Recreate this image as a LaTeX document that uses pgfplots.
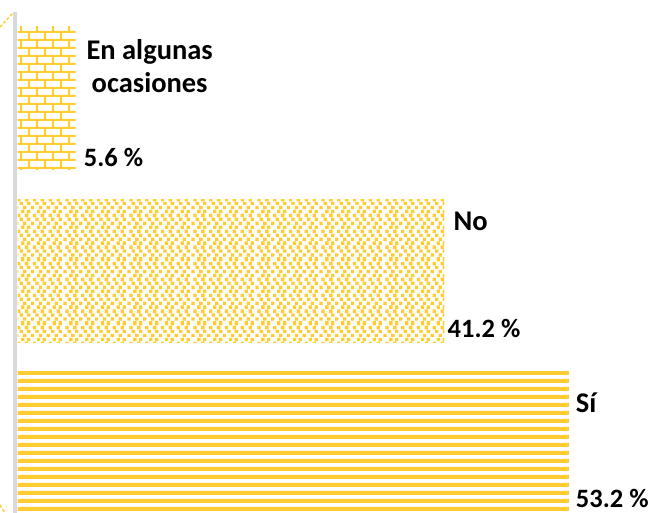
\documentclass[border=0pt]{standalone}
\usepackage{fontspec}
\setmainfont{Carlito}
\usepackage{pgfplots}
\pgfplotsset{compat=1.18}
\usetikzlibrary{patterns.meta}
\definecolor{yel}{RGB}{255,205,51}
\definecolor{axgray}{RGB}{217,217,217}

\pgfdeclarepattern{
  name=mybricks,
  type=uncolored,
  bottom left={\pgfpoint{-0.6bp}{-0.6bp}},
  top right={\pgfpoint{64.6bp}{64.6bp}},
  tile size={\pgfpoint{64bp}{64bp}},
  code={
    \foreach \j in {0,16,32,48}{
      \pgfpathrectangle{\pgfpoint{-0.6bp}{\j bp}}{\pgfpoint{65.2bp}{2bp}}
      \pgfpathrectangle{\pgfpoint{-0.6bp}{\j bp+8bp}}{\pgfpoint{65.2bp}{2bp}}
      \foreach \i in {0,16,32,48}{
        \pgfpathrectangle{\pgfpoint{\i bp+4bp}{\j bp+2bp}}{\pgfpoint{2bp}{6bp}}
        \pgfpathrectangle{\pgfpoint{\i bp+12bp}{\j bp+10bp}}{\pgfpoint{2bp}{6bp}}
      }
    }
    \pgfusepath{fill}
  }
}
\pgfdeclarepattern{
  name=mystripes,
  type=uncolored,
  bottom left={\pgfpoint{-0.6bp}{0bp}},
  top right={\pgfpoint{64.6bp}{64bp}},
  tile size={\pgfpoint{64bp}{64bp}},
  code={
    \foreach \j in {0,8,...,56}{
      \pgfpathrectangle{\pgfpoint{-0.6bp}{\j bp+2bp}}{\pgfpoint{65.2bp}{4bp}}
    }
    \pgfusepath{fill}
  }
}
\pgfdeclarepattern{
  name=myconfetti,
  type=uncolored,
  bottom left={\pgfpoint{0bp}{0bp}},
  top right={\pgfpoint{64bp}{64bp}},
  tile size={\pgfpoint{64bp}{64bp}},
  code={
    \foreach \i in {0,16,32,48}{
      \foreach \j in {0,16,32,48}{
        \pgfpathrectangle{\pgfpoint{\i bp+0.3bp}{\j bp+0.3bp}}{\pgfpoint{3.4bp}{3.4bp}}
        \pgfpathrectangle{\pgfpoint{\i bp+8.3bp}{\j bp+0.3bp}}{\pgfpoint{3.4bp}{3.4bp}}
        \pgfpathrectangle{\pgfpoint{\i bp+4.8bp}{\j bp+4.3bp}}{\pgfpoint{3.4bp}{3.4bp}}
        \pgfpathrectangle{\pgfpoint{\i bp+12.3bp}{\j bp+4.3bp}}{\pgfpoint{3.4bp}{3.4bp}}
        \pgfpathrectangle{\pgfpoint{\i bp+2.3bp}{\j bp+8.3bp}}{\pgfpoint{3.4bp}{3.4bp}}
        \pgfpathrectangle{\pgfpoint{\i bp+10.3bp}{\j bp+8.3bp}}{\pgfpoint{3.4bp}{3.4bp}}
        \pgfpathrectangle{\pgfpoint{\i bp+6.3bp}{\j bp+12.3bp}}{\pgfpoint{3.4bp}{3.4bp}}
        \pgfpathrectangle{\pgfpoint{\i bp+12.3bp}{\j bp+12.3bp}}{\pgfpoint{3.4bp}{3.4bp}}
      }
    }
    \pgfusepath{fill}
  }
}

\newcommand{\lbl}{\bfseries\fontsize{26.5bp}{30bp}\selectfont}
\newcommand{\cat}{\bfseries\fontsize{28.5bp}{32bp}\selectfont}

\begin{document}
\begin{tikzpicture}[x=1bp,y=1bp]
\begin{axis}[
  at={(14,0)}, anchor=south west,
  scale only axis, width=624.7bp, height=501bp,
  xmin=-0.3, xmax=60, ymin=-0.406, ymax=2.502,
  xbar, bar width=0.83,
  axis x line=none, axis y line=left,
  axis line style={-, draw=axgray, line width=4bp},
  ytick=\empty, xtick=\empty,
  clip=false,
]
\addplot[bar shift=0pt, draw=none, pattern={mystripes}, pattern color=yel] coordinates {(53.2,0)};
\addplot[bar shift=0pt, draw=none, pattern={myconfetti}, pattern color=yel] coordinates {(41.2,1)};
\addplot[bar shift=0pt, draw=none, pattern={mybricks}, pattern color=yel] coordinates {(5.6,2)};

\node[anchor=base, inner sep=0pt, xshift=74bp, yshift=38.5bp, font=\cat] at (axis cs:5.6,2) {En algunas};
\node[anchor=base, inner sep=0pt, xshift=74bp, yshift=5.5bp, font=\cat] at (axis cs:5.6,2) {ocasiones};
\node[anchor=base west, inner sep=0pt, xshift=8bp, yshift=-68.5bp, font=\lbl] at (axis cs:5.6,2) {5.6 \%};
\node[anchor=base west, inner sep=0pt, xshift=9bp, yshift=40.5bp, font=\cat] at (axis cs:41.2,1) {No};
\node[anchor=base west, inner sep=0pt, xshift=3bp, yshift=-66.5bp, font=\lbl] at (axis cs:41.2,1) {41.2 \%};
\node[anchor=base west, inner sep=0pt, xshift=7bp, yshift=31bp, font=\cat] at (axis cs:53.2,0) {Sí};
\node[anchor=base west, inner sep=0pt, xshift=7bp, yshift=-64bp, font=\lbl] at (axis cs:53.2,0) {53.2 \%};
\end{axis}
\draw[yel, line width=1.5bp, dash pattern=on 3bp off 2bp] (0,486) -- (13,500);
\draw[yel, line width=1.5bp, dash pattern=on 3bp off 2bp] (0,8) -- (5,0);
\pgfresetboundingbox
\path[use as bounding box] (0,0) rectangle (649,513);
\end{tikzpicture}
\end{document}
